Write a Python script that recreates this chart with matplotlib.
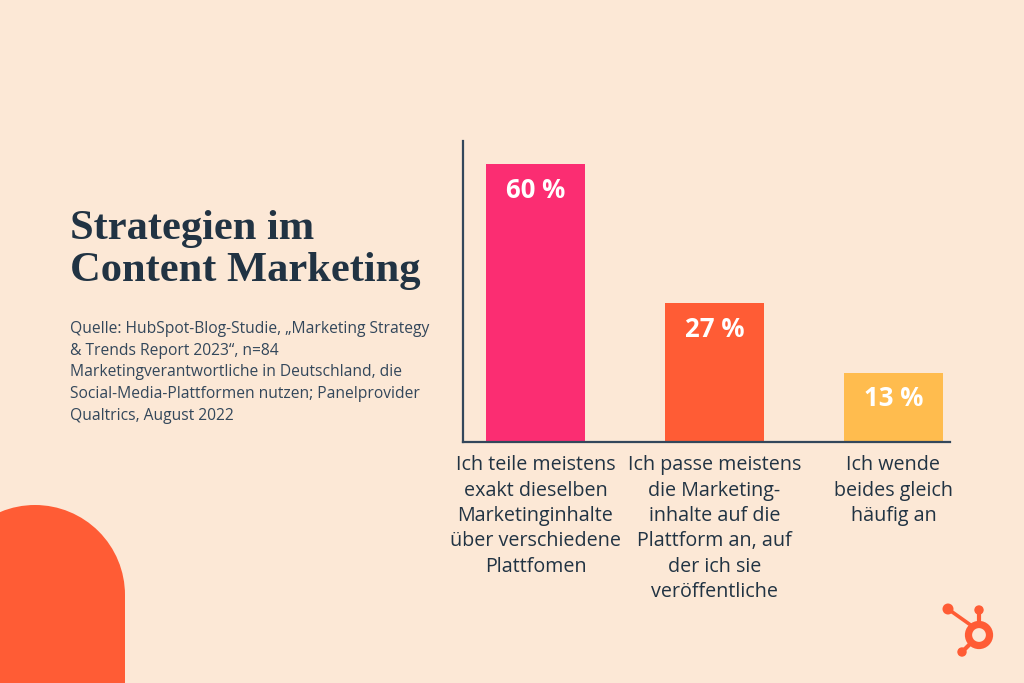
import matplotlib
matplotlib.use("Agg")
import matplotlib.pyplot as plt
from matplotlib.patches import Circle, Rectangle

categories = [
    "Ich teile meistens\nexakt dieselben\nMarketinginhalte\nüber verschiedene\nPlattfomen",
    "Ich passe meistens\ndie Marketing-\ninhalte auf die\nPlattform an, auf\nder ich sie\nveröffentliche",
    "Ich wende\nbeides gleich\nhäufig an",
]
bar_heights = [60, 30, 15]  # drawn heights
value_labels = ["60 %", "27 %", "13 %"]
bar_colors = ["#FB2D72", "#FF5C35", "#FFBC4E"]
title_lines = "Strategien im\nContent Marketing"
source_text = ("Quelle: HubSpot-Blog-Studie, „Marketing Strategy\n"
               "& Trends Report 2023“, n=84\n"
               "Marketingverantwortliche in Deutschland, die\n"
               "Social-Media-Plattformen nutzen; Panelprovider\n"
               "Qualtrics, August 2022")

BG = "#FCE8D6"
NAVY = "#213343"
W, H = 1024, 683

fig = plt.figure(figsize=(10.24, 6.83), dpi=100, facecolor=BG)

# pixel-space decoration layer
deco = fig.add_axes([0, 0, 1, 1], zorder=0)
deco.set_xlim(0, W)
deco.set_ylim(H, 0)
deco.axis("off")
OR = "#FF5C35"
deco.add_patch(Circle((35, 595), 90, color=OR, lw=0))
deco.add_patch(Rectangle((-55, 595), 180, 90, color=OR, lw=0))
# logo
deco.add_patch(Circle((979, 635), 10.5, fill=False, ec=OR, lw=5.2))
deco.add_patch(Circle((979, 610), 4.7, color=OR, lw=0))
deco.plot([979, 979], [610, 625], color=OR, lw=3, solid_capstyle="butt")
deco.add_patch(Circle((948, 609), 5.5, color=OR, lw=0))
deco.plot([948, 972], [609, 626], color=OR, lw=2.6, solid_capstyle="butt")
deco.add_patch(Circle((962, 652), 4.7, color=OR, lw=0))
deco.plot([962, 972], [652, 642], color=OR, lw=3, solid_capstyle="butt")

deco.text(70, 250, title_lines, family="Liberation Serif", weight="bold", fontsize=30.6,
          color=NAVY, ha="left", va="center", linespacing=1.17)
deco.text(70, 372.5, source_text, family="Open Sans", fontsize=11.25, color="#33475B",
          ha="left", va="center", linespacing=1.47)

# chart
left, right, top, bottom = 463, 950, 141, 442
ax = fig.add_axes([left / W, 1 - bottom / H, (right - left) / W, (bottom - top) / H], zorder=1)
ax.patch.set_alpha(0)
x = list(range(len(categories)))
bars = ax.bar(x, bar_heights, width=0.556, color=bar_colors)
ax.set_xlim(-0.405, 2.316)
ax.set_ylim(0, 65)
ax.set_yticks([])
ax.set_xticks(x)
ax.set_xticklabels(categories, family="Open Sans", fontsize=14.2, color=NAVY, linespacing=1.36, va="top")
ax.tick_params(axis="x", length=0, pad=9.5)
for s in ("top", "right"):
    ax.spines[s].set_visible(False)
for s in ("left", "bottom"):
    ax.spines[s].set_color("#33475B")
    ax.spines[s].set_linewidth(1.6)
for b, lab in zip(bars, value_labels):
    ax.annotate(lab, (b.get_x() + b.get_width() / 2, b.get_height()), xytext=(0, -19),
                textcoords="offset points", ha="center", va="center",
                family="Open Sans", weight="bold", fontsize=18.5, color="white")

fig.savefig("out.png", dpi=100, facecolor=BG)
